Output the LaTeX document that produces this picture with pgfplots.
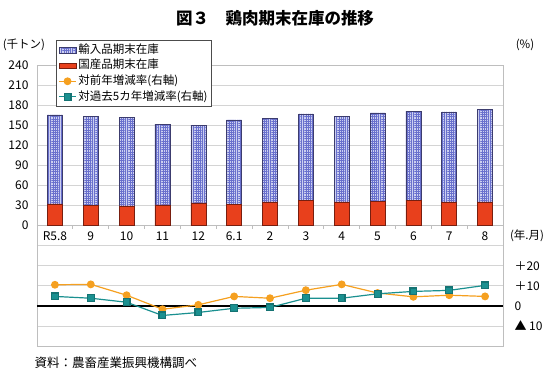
\documentclass[border=0pt]{standalone}
\usepackage{pgfplots}
\pgfplotsset{compat=1.18}
\usepackage{pgfplotstable}
\usetikzlibrary{patterns.meta}
\usepackage{fontspec}
\setmainfont{Noto Sans CJK JP}
\definecolor{impfill}{RGB}{205,208,240}
\definecolor{imppat}{RGB}{105,112,205}
\definecolor{impedge}{RGB}{60,60,110}
\definecolor{domfill}{RGB}{232,64,28}
\definecolor{domedge}{RGB}{120,30,15}
\definecolor{orangeL}{RGB}{245,160,32}
\definecolor{tealL}{RGB}{26,144,144}
\definecolor{gridc}{RGB}{212,212,212}
\definecolor{framec}{RGB}{190,190,190}

\pgfplotstableread{
x dom imp
0 32.5 133
1 30 133
2 29.5 132
3 31 120.5
4 34 116
5 31.5 126.5
6 35.5 124.5
7 37.5 129.5
8 35.5 128
9 36.5 132
10 37.5 133.5
11 35.5 134.5
12 35.5 138.5
}\stock

\pgfplotstableread{
x yoy five
0 10.5 4.7
1 10.7 3.8
2 5.3 1.8
3 -1.7 -4.8
4 0.5 -3.3
5 4.7 -1.2
6 3.8 -0.8
7 7.8 3.8
8 10.7 3.8
9 6.4 6.0
10 4.5 7.2
11 5.3 7.7
12 4.7 10.2
}\rates

\begin{document}
\begin{tikzpicture}
\useasboundingbox (0,0) rectangle (550pt,374pt);
\begin{axis}[
  at={(37pt,28pt)}, anchor=south west,
  scale only axis, width=466pt, height=281pt,
  xmin=-0.5, xmax=12.5, ymin=-180, ymax=240,
  ytick={-180,-150,...,240},
  yticklabels={,,,,,,0,30,60,90,120,150,180,210,240},
  ymajorgrids, grid style={gridc, line width=0.8pt},
  major tick length=0pt,
  xtick={0,...,12},
  xticklabels={R5.8,9,10,11,12,6.1,2,3,4,5,6,7,8},
  xticklabel style={anchor=center, yshift=110pt},
  yticklabel style={xshift=-5pt},
  tick label style={font=\fontsize{12}{13}\selectfont},
  axis line style={framec, line width=0.8pt},
  ybar stacked, bar width=15pt,
]
\addplot[fill=domfill, draw=domedge, line width=0.6pt] table[x=x,y=dom]{\stock};
\addplot[fill=impfill, draw=impedge, line width=0.6pt,
  postaction={pattern={Hatch[distance=2.2pt,angle=0,line width=0.45pt]}, pattern color=imppat}]
  table[x=x,y=imp]{\stock};
\draw[framec, line width=0.8pt] (axis cs:-0.5,0) -- (axis cs:12.5,0);
\pgfplotsinvokeforeach{-0.5,0.5,1.5,2.5,3.5,4.5,5.5,6.5,7.5,8.5,9.5,10.5,11.5,12.5}{
  \draw[framec, line width=0.8pt] (axis cs:#1,0) -- (axis cs:#1,-4.5);
}
\end{axis}

\begin{axis}[
  at={(37pt,28pt)}, anchor=south west,
  scale only axis, width=466pt, height=281pt,
  xmin=-0.5, xmax=12.5, ymin=-20, ymax=120,
  axis y line*=right, axis x line=none,
  ytick={-10,0,10,20},
  yticklabels={▲ 10,0,＋10,＋20},
  yticklabel style={anchor=west, xshift=8pt},
  tick label style={font=\fontsize{12}{13}\selectfont},
  major tick length=0pt,
  axis line style={framec, line width=0.8pt},
  legend style={at={(0.041,1.089)}, anchor=north west,
    draw=black!70, line width=0.6pt, fill=white,
    font=\fontsize{11.5}{12}\selectfont,
    nodes={inner sep=1.8pt, text height=9.2pt, text depth=2.8pt},
    row sep=0pt, inner sep=2pt},
  legend cell align=left,
]
\addlegendimage{area legend, fill=impfill, draw=impedge,
  postaction={pattern={Hatch[distance=2.2pt,angle=0,line width=0.45pt]}, pattern color=imppat}}
\addlegendentry{輸入品期末在庫}
\addlegendimage{area legend, fill=domfill, draw=domedge}
\addlegendentry{国産品期末在庫}
\addplot[black, line width=1.3pt, forget plot] coordinates {(-0.5,0) (12.5,0)};
\addplot[orangeL, line width=1.2pt, mark=*, mark size=3.3pt,
  mark options={fill=orangeL, draw=orangeL}] table[x=x,y=yoy]{\rates};
\addlegendentry{対前年増減率(右軸)}
\addplot[tealL, line width=1.2pt, mark=square*, mark size=3.4pt,
  mark options={fill=tealL, draw=tealL!80!black}] table[x=x,y=five]{\rates};
\addlegendentry{対過去5カ年増減率(右軸)}
\end{axis}

\node[font=\bfseries\fontsize{16.5}{18}\selectfont] at (275pt,356pt) {図３　鶏肉期末在庫の推移};
\node[font=\fontsize{11.5}{12}\selectfont] at (24pt,329pt) {(千トン)};
\node[font=\fontsize{11.5}{12}\selectfont] at (525pt,329pt) {(\%)};
\node[font=\fontsize{11.5}{12}\selectfont] at (527pt,138pt) {(年.月)};
\node[font=\fontsize{12.5}{13}\selectfont, anchor=west] at (31pt,11pt) {資料：農畜産業振興機構調べ};
\end{tikzpicture}
\end{document}
